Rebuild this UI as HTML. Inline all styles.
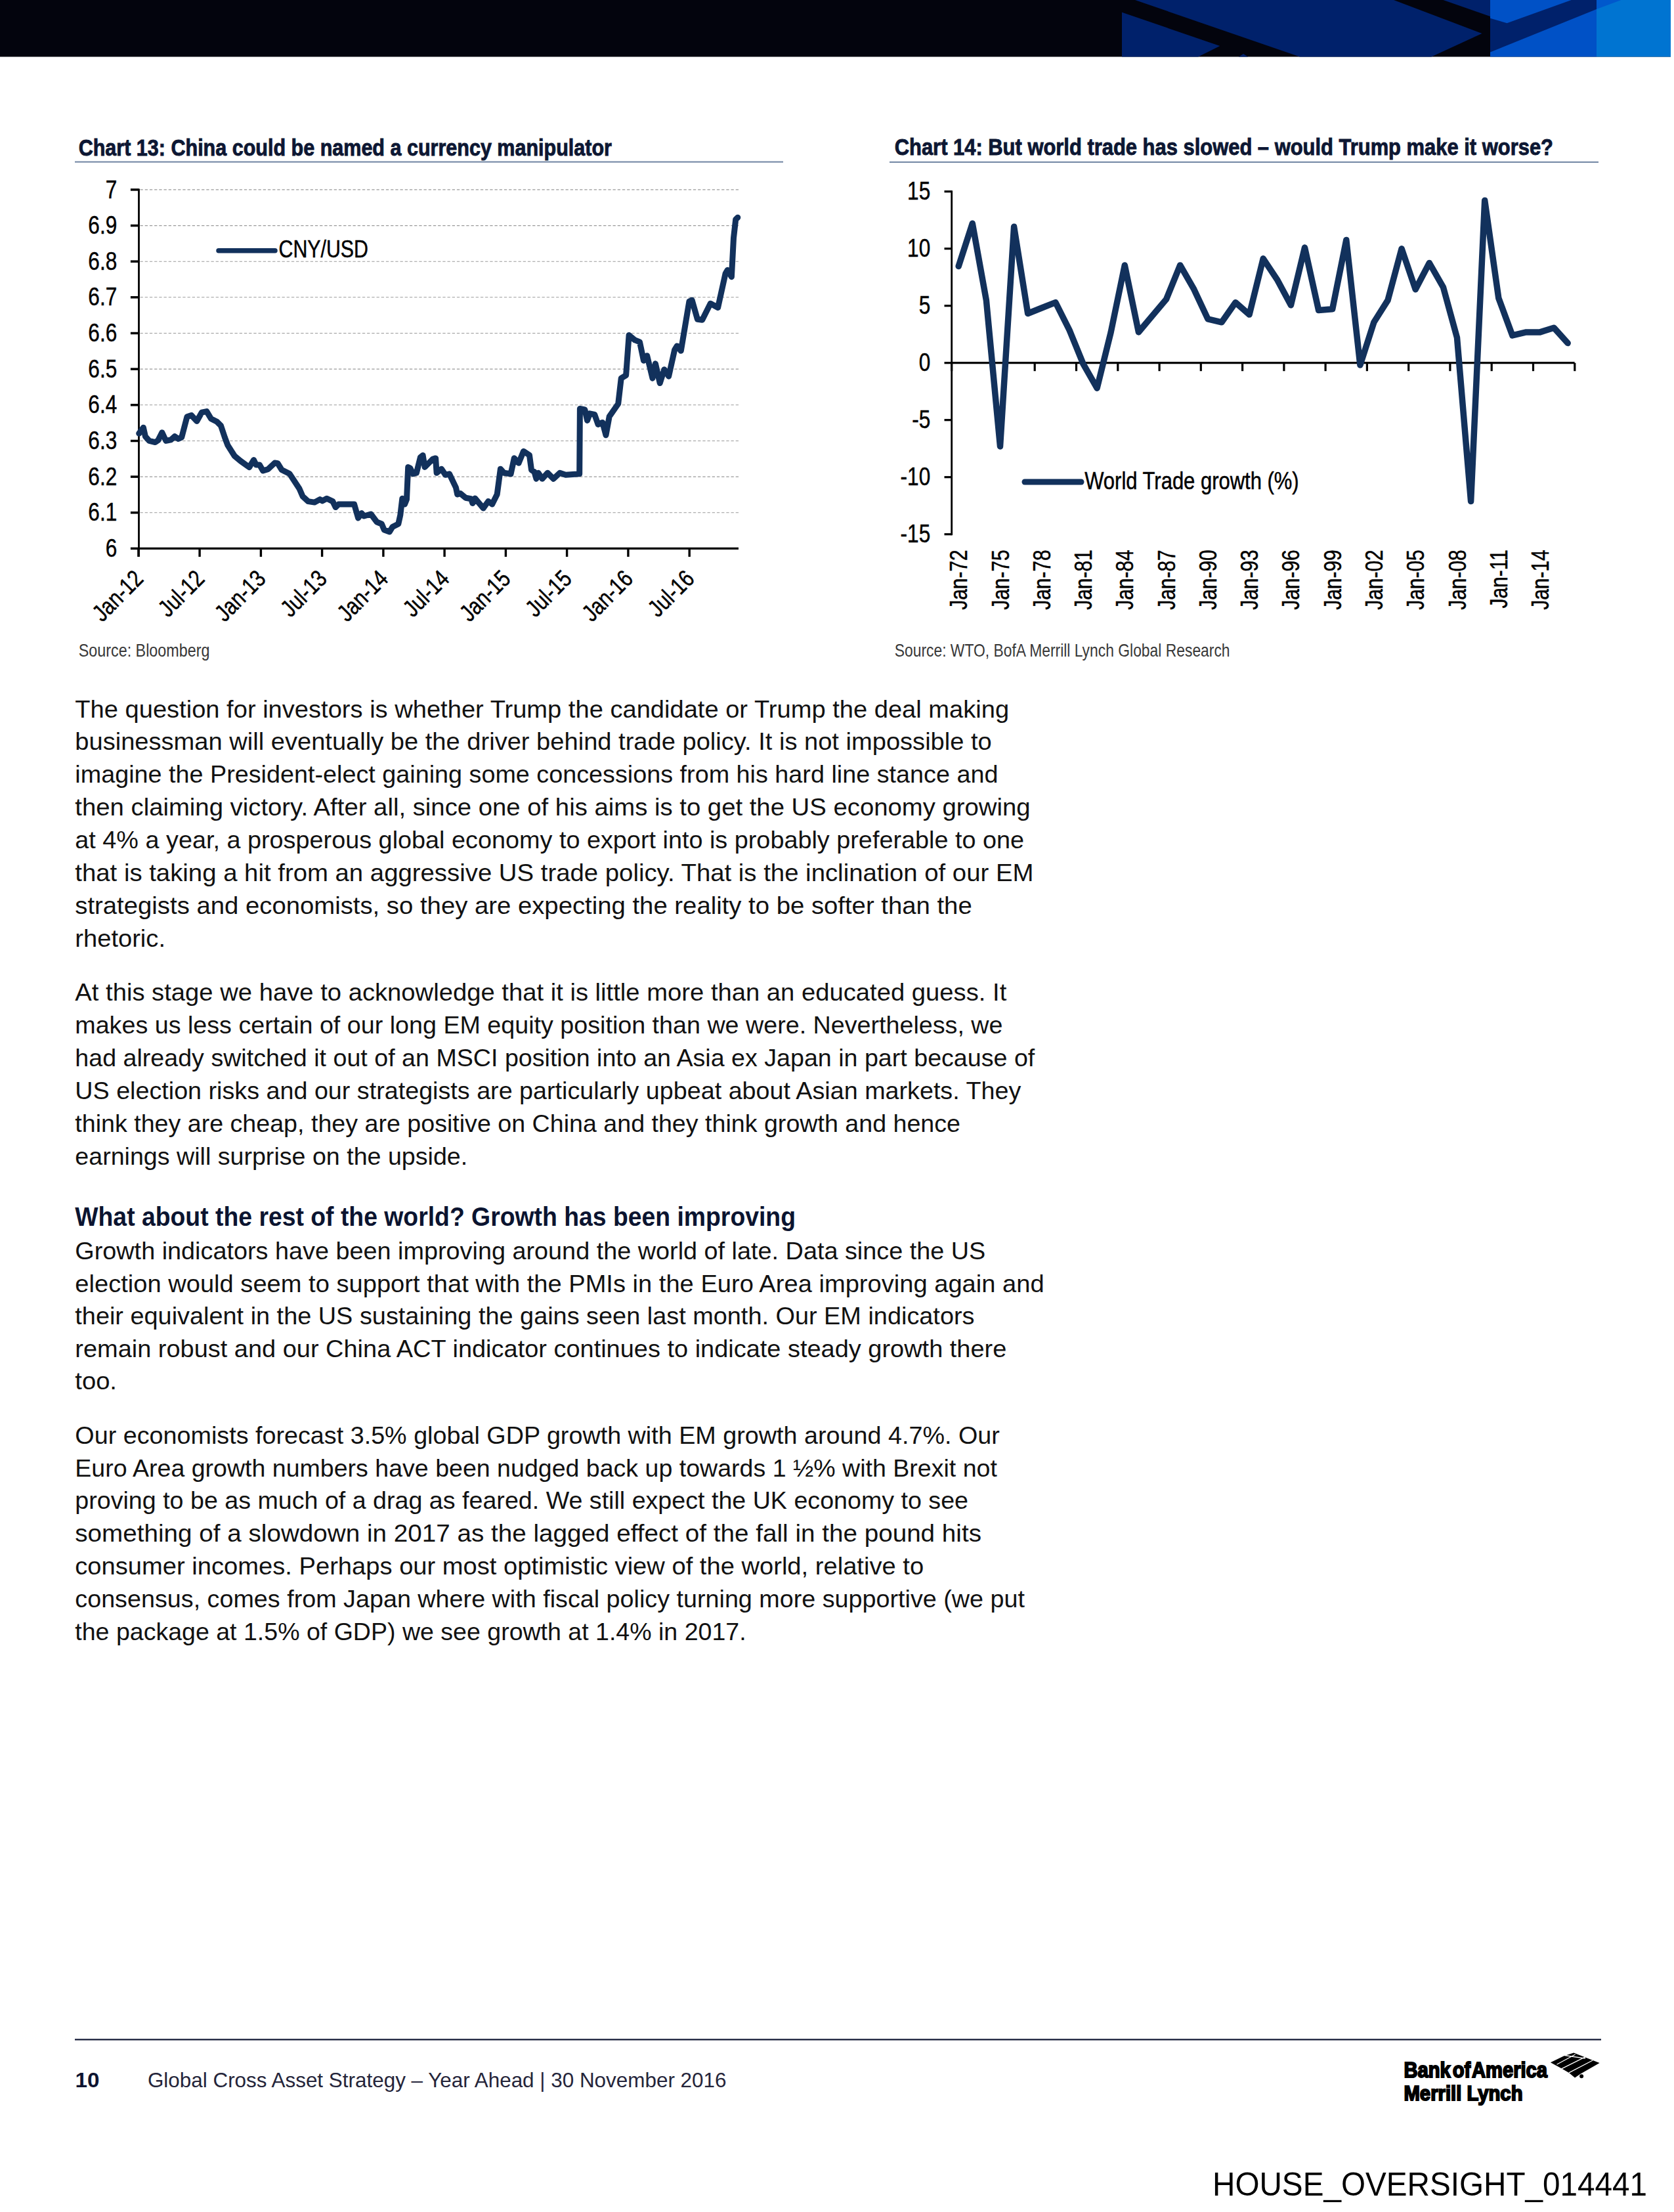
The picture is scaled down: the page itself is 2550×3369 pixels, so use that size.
<!DOCTYPE html>
<html><head><meta charset="utf-8"><style>
html,body{margin:0;padding:0;background:#fff;width:2550px;height:3369px;overflow:hidden}
svg{display:block}
text{font-family:"Liberation Sans",sans-serif}
</style></head><body>
<svg width="2550" height="3369" viewBox="0 0 2550 3369">
<rect x="0" y="0" width="2545" height="86.5" fill="#03040d"/>
<polygon fill="#00216b" points="1709.0,18.8 1858.3,69.9 1825.2,86.5 1709.0,86.5"/>
<polygon fill="#00216b" points="1729.0,0.0 2123.0,0.0 2257.5,51.0 2180.4,86.5 1980.0,86.5"/>
<polygon fill="#00216b" points="1887.0,86.5 1894.0,82.0 1901.0,86.5"/>
<polygon fill="#00216b" points="2198.4,0.0 2270.0,0.0 2270.0,25.0"/>
<rect x="2270" y="0" width="162" height="86.5" fill="#0051c6"/>
<polygon fill="#00216b" points="2270.0,27.8 2295.6,35.2 2393.7,0.0 2432.0,0.0 2432.0,13.9 2270.0,79.6"/>
<rect x="2432" y="0" width="113" height="86.5" fill="#0074d1"/>
<polygon fill="#0058cc" points="2432.0,0.0 2469.6,0.0 2432.0,13.9"/>
<text x="119.7" y="236.6" font-size="34.5" fill="#0d1733" font-weight="bold" textLength="812.3" lengthAdjust="spacingAndGlyphs" stroke="#0d1733" stroke-width="0.9">Chart 13: China could be named a currency manipulator</text>
<text x="1362.7" y="236.4" font-size="34.5" fill="#0d1733" font-weight="bold" textLength="1003.3" lengthAdjust="spacingAndGlyphs" stroke="#0d1733" stroke-width="0.9">Chart 14: But world trade has slowed – would Trump make it worse?</text>
<rect x="114" y="245.6" width="1079" height="2" fill="#6f84a2"/>
<rect x="1355" y="245.9" width="1080" height="2" fill="#6f84a2"/>
<line x1="213.5" y1="780.8" x2="1125" y2="780.8" stroke="#9a9a9a" stroke-width="1.1" stroke-dasharray="4.3,2.9"/>
<line x1="213.5" y1="726.1" x2="1125" y2="726.1" stroke="#9a9a9a" stroke-width="1.1" stroke-dasharray="4.3,2.9"/>
<line x1="213.5" y1="671.5" x2="1125" y2="671.5" stroke="#9a9a9a" stroke-width="1.1" stroke-dasharray="4.3,2.9"/>
<line x1="213.5" y1="616.8" x2="1125" y2="616.8" stroke="#9a9a9a" stroke-width="1.1" stroke-dasharray="4.3,2.9"/>
<line x1="213.5" y1="562.1" x2="1125" y2="562.1" stroke="#9a9a9a" stroke-width="1.1" stroke-dasharray="4.3,2.9"/>
<line x1="213.5" y1="507.5" x2="1125" y2="507.5" stroke="#9a9a9a" stroke-width="1.1" stroke-dasharray="4.3,2.9"/>
<line x1="213.5" y1="452.8" x2="1125" y2="452.8" stroke="#9a9a9a" stroke-width="1.1" stroke-dasharray="4.3,2.9"/>
<line x1="213.5" y1="398.2" x2="1125" y2="398.2" stroke="#9a9a9a" stroke-width="1.1" stroke-dasharray="4.3,2.9"/>
<line x1="213.5" y1="343.6" x2="1125" y2="343.6" stroke="#9a9a9a" stroke-width="1.1" stroke-dasharray="4.3,2.9"/>
<line x1="213.5" y1="288.9" x2="1125" y2="288.9" stroke="#9a9a9a" stroke-width="1.1" stroke-dasharray="4.3,2.9"/>
<line x1="198.9" y1="835.4" x2="211.5" y2="835.4" stroke="#000" stroke-width="3.5"/>
<text transform="translate(178.2,848.0) scale(0.82,1)" font-size="38.5" text-anchor="end" fill="#000" stroke="#000" stroke-width="0.5">6</text>
<line x1="198.9" y1="780.8" x2="211.5" y2="780.8" stroke="#000" stroke-width="3.5"/>
<text transform="translate(178.2,793.4) scale(0.82,1)" font-size="38.5" text-anchor="end" fill="#000" stroke="#000" stroke-width="0.5">6.1</text>
<line x1="198.9" y1="726.1" x2="211.5" y2="726.1" stroke="#000" stroke-width="3.5"/>
<text transform="translate(178.2,738.7) scale(0.82,1)" font-size="38.5" text-anchor="end" fill="#000" stroke="#000" stroke-width="0.5">6.2</text>
<line x1="198.9" y1="671.5" x2="211.5" y2="671.5" stroke="#000" stroke-width="3.5"/>
<text transform="translate(178.2,684.1) scale(0.82,1)" font-size="38.5" text-anchor="end" fill="#000" stroke="#000" stroke-width="0.5">6.3</text>
<line x1="198.9" y1="616.8" x2="211.5" y2="616.8" stroke="#000" stroke-width="3.5"/>
<text transform="translate(178.2,629.4) scale(0.82,1)" font-size="38.5" text-anchor="end" fill="#000" stroke="#000" stroke-width="0.5">6.4</text>
<line x1="198.9" y1="562.1" x2="211.5" y2="562.1" stroke="#000" stroke-width="3.5"/>
<text transform="translate(178.2,574.8) scale(0.82,1)" font-size="38.5" text-anchor="end" fill="#000" stroke="#000" stroke-width="0.5">6.5</text>
<line x1="198.9" y1="507.5" x2="211.5" y2="507.5" stroke="#000" stroke-width="3.5"/>
<text transform="translate(178.2,520.1) scale(0.82,1)" font-size="38.5" text-anchor="end" fill="#000" stroke="#000" stroke-width="0.5">6.6</text>
<line x1="198.9" y1="452.8" x2="211.5" y2="452.8" stroke="#000" stroke-width="3.5"/>
<text transform="translate(178.2,465.4) scale(0.82,1)" font-size="38.5" text-anchor="end" fill="#000" stroke="#000" stroke-width="0.5">6.7</text>
<line x1="198.9" y1="398.2" x2="211.5" y2="398.2" stroke="#000" stroke-width="3.5"/>
<text transform="translate(178.2,410.8) scale(0.82,1)" font-size="38.5" text-anchor="end" fill="#000" stroke="#000" stroke-width="0.5">6.8</text>
<line x1="198.9" y1="343.6" x2="211.5" y2="343.6" stroke="#000" stroke-width="3.5"/>
<text transform="translate(178.2,356.2) scale(0.82,1)" font-size="38.5" text-anchor="end" fill="#000" stroke="#000" stroke-width="0.5">6.9</text>
<line x1="198.9" y1="288.9" x2="211.5" y2="288.9" stroke="#000" stroke-width="3.5"/>
<text transform="translate(178.2,301.5) scale(0.82,1)" font-size="38.5" text-anchor="end" fill="#000" stroke="#000" stroke-width="0.5">7</text>
<line x1="211.5" y1="287.4" x2="211.5" y2="847.9" stroke="#000" stroke-width="2.8"/>
<line x1="210.1" y1="835.4" x2="1125" y2="835.4" stroke="#000" stroke-width="3.4"/>
<line x1="210.9" y1="835.4" x2="210.9" y2="848" stroke="#000" stroke-width="3.4"/>
<g transform="translate(210.9,874.3) rotate(-45)"><text transform="translate(0,13.4) scale(0.82,1)" font-size="36.5" text-anchor="end" fill="#000" stroke="#000" stroke-width="0.5">Jan-12</text></g>
<line x1="304.1" y1="835.4" x2="304.1" y2="848" stroke="#000" stroke-width="3.4"/>
<g transform="translate(304.1,874.3) rotate(-45)"><text transform="translate(0,13.4) scale(0.82,1)" font-size="36.5" text-anchor="end" fill="#000" stroke="#000" stroke-width="0.5">Jul-12</text></g>
<line x1="397.4" y1="835.4" x2="397.4" y2="848" stroke="#000" stroke-width="3.4"/>
<g transform="translate(397.4,874.3) rotate(-45)"><text transform="translate(0,13.4) scale(0.82,1)" font-size="36.5" text-anchor="end" fill="#000" stroke="#000" stroke-width="0.5">Jan-13</text></g>
<line x1="490.6" y1="835.4" x2="490.6" y2="848" stroke="#000" stroke-width="3.4"/>
<g transform="translate(490.6,874.3) rotate(-45)"><text transform="translate(0,13.4) scale(0.82,1)" font-size="36.5" text-anchor="end" fill="#000" stroke="#000" stroke-width="0.5">Jul-13</text></g>
<line x1="583.9" y1="835.4" x2="583.9" y2="848" stroke="#000" stroke-width="3.4"/>
<g transform="translate(583.9,874.3) rotate(-45)"><text transform="translate(0,13.4) scale(0.82,1)" font-size="36.5" text-anchor="end" fill="#000" stroke="#000" stroke-width="0.5">Jan-14</text></g>
<line x1="677.1" y1="835.4" x2="677.1" y2="848" stroke="#000" stroke-width="3.4"/>
<g transform="translate(677.1,874.3) rotate(-45)"><text transform="translate(0,13.4) scale(0.82,1)" font-size="36.5" text-anchor="end" fill="#000" stroke="#000" stroke-width="0.5">Jul-14</text></g>
<line x1="770.4" y1="835.4" x2="770.4" y2="848" stroke="#000" stroke-width="3.4"/>
<g transform="translate(770.4,874.3) rotate(-45)"><text transform="translate(0,13.4) scale(0.82,1)" font-size="36.5" text-anchor="end" fill="#000" stroke="#000" stroke-width="0.5">Jan-15</text></g>
<line x1="863.6" y1="835.4" x2="863.6" y2="848" stroke="#000" stroke-width="3.4"/>
<g transform="translate(863.6,874.3) rotate(-45)"><text transform="translate(0,13.4) scale(0.82,1)" font-size="36.5" text-anchor="end" fill="#000" stroke="#000" stroke-width="0.5">Jul-15</text></g>
<line x1="956.9" y1="835.4" x2="956.9" y2="848" stroke="#000" stroke-width="3.4"/>
<g transform="translate(956.9,874.3) rotate(-45)"><text transform="translate(0,13.4) scale(0.82,1)" font-size="36.5" text-anchor="end" fill="#000" stroke="#000" stroke-width="0.5">Jan-16</text></g>
<line x1="1050.2" y1="835.4" x2="1050.2" y2="848" stroke="#000" stroke-width="3.4"/>
<g transform="translate(1050.2,874.3) rotate(-45)"><text transform="translate(0,13.4) scale(0.82,1)" font-size="36.5" text-anchor="end" fill="#000" stroke="#000" stroke-width="0.5">Jul-16</text></g>
<polyline fill="none" stroke="#12315c" stroke-width="9" stroke-linejoin="round" stroke-linecap="round" points="211.7,660.2 218.4,651.2 221.4,664.7 227.4,671.4 236.4,673.6 240.8,670.6 246.8,658.7 252.8,671.4 260.3,669.9 266.2,664.7 271.5,668.4 276.7,666.2 284.9,634.8 291.6,632.6 299.8,641.5 307.3,628.1 314.8,626.6 321.5,637.8 330.4,642.3 336.4,648.2 342.4,666.2 346.9,678.1 357.3,694.5 366.3,702.0 379.7,711.7 386.5,700.5 390.2,708.0 395.4,708.0 400.6,716.9 408.1,714.7 418.6,705.0 423.0,705.7 429.0,715.4 441.0,721.4 456.0,744.2 461.2,756.2 469.4,763.6 479.1,765.1 487.3,760.6 491.1,762.9 497.8,759.2 506.8,763.6 511.2,772.6 515.7,768.1 533.6,768.1 539.6,768.1 545.6,789.0 550.8,781.6 554.5,786.0 565.0,783.0 574.0,795.0 581.4,798.0 585.2,806.9 593.4,809.9 597.9,802.5 606.8,798.0 609.8,784.5 612.8,759.2 616.5,768.1 619.5,760.6 621.7,711.4 624.7,712.9 629.2,721.8 634.4,720.3 640.4,696.4 644.1,693.4 647.1,711.4 659.0,699.4 663.6,697.9 665.1,720.3 672.5,714.3 678.5,723.3 684.5,721.8 694.5,742.6 696.7,753.0 701.2,751.6 709.4,758.3 717.6,759.8 719.9,766.5 723.6,759.0 736.3,774.0 743.8,763.5 749.7,768.0 757.2,753.0 762.4,714.2 767.7,720.2 778.1,721.7 783.3,697.8 790.1,705.3 797.5,687.3 806.5,693.3 809.5,715.7 814.0,718.7 817.0,729.2 820.0,720.2 826.0,729.2 834.1,720.2 843.1,729.2 852.8,720.2 861.7,723.2 882.7,721.7 883.4,622.5 890.9,624.0 894.6,640.4 898.4,629.9 905.8,631.4 911.1,646.4 917.8,643.4 923.0,662.8 928.2,634.4 941.7,615.0 946.2,576.2 953.6,571.7 958.1,510.5 967.1,517.9 974.5,520.9 980.5,549.3 985.7,541.8 994.0,576.2 998.4,553.8 1005.2,583.6 1011.9,562.7 1018.6,573.2 1027.6,532.9 1031.3,526.9 1037.3,534.3 1049.9,459.1 1054.1,457.1 1062.4,486.2 1069.7,487.2 1082.2,462.3 1093.6,468.5 1105.1,416.5 1108.2,411.3 1114.4,421.7 1117.5,362.4 1120.7,334.3 1123.8,331.2"/>
<line x1="333" y1="381.8" x2="419" y2="381.8" stroke="#12315c" stroke-width="7.5" stroke-linecap="round"/>
<text x="424.5" y="392.3" font-size="36.5" fill="#000" stroke="#000" stroke-width="0.5" textLength="136.5" lengthAdjust="spacingAndGlyphs">CNY/USD</text>
<text x="119.7" y="999.8" font-size="28" fill="#383838" textLength="199.8" lengthAdjust="spacingAndGlyphs" >Source: Bloomberg</text>
<line x1="1438.5" y1="813.7" x2="1449.7" y2="813.7" stroke="#000" stroke-width="3.2"/>
<text transform="translate(1417.2,826.3) scale(0.82,1)" font-size="38.5" text-anchor="end" fill="#000" stroke="#000" stroke-width="0.5">-15</text>
<line x1="1438.5" y1="726.7" x2="1449.7" y2="726.7" stroke="#000" stroke-width="3.2"/>
<text transform="translate(1417.2,739.3) scale(0.82,1)" font-size="38.5" text-anchor="end" fill="#000" stroke="#000" stroke-width="0.5">-10</text>
<line x1="1438.5" y1="639.7" x2="1449.7" y2="639.7" stroke="#000" stroke-width="3.2"/>
<text transform="translate(1417.2,652.3) scale(0.82,1)" font-size="38.5" text-anchor="end" fill="#000" stroke="#000" stroke-width="0.5">-5</text>
<line x1="1438.5" y1="552.7" x2="1449.7" y2="552.7" stroke="#000" stroke-width="3.2"/>
<text transform="translate(1417.2,565.3) scale(0.82,1)" font-size="38.5" text-anchor="end" fill="#000" stroke="#000" stroke-width="0.5">0</text>
<line x1="1438.5" y1="465.7" x2="1449.7" y2="465.7" stroke="#000" stroke-width="3.2"/>
<text transform="translate(1417.2,478.3) scale(0.82,1)" font-size="38.5" text-anchor="end" fill="#000" stroke="#000" stroke-width="0.5">5</text>
<line x1="1438.5" y1="378.7" x2="1449.7" y2="378.7" stroke="#000" stroke-width="3.2"/>
<text transform="translate(1417.2,391.3) scale(0.82,1)" font-size="38.5" text-anchor="end" fill="#000" stroke="#000" stroke-width="0.5">10</text>
<line x1="1438.5" y1="291.7" x2="1449.7" y2="291.7" stroke="#000" stroke-width="3.2"/>
<text transform="translate(1417.2,304.3) scale(0.82,1)" font-size="38.5" text-anchor="end" fill="#000" stroke="#000" stroke-width="0.5">15</text>
<line x1="1449.7" y1="290.2" x2="1449.7" y2="815.2" stroke="#000" stroke-width="2.8"/>
<line x1="1448.3" y1="552.7" x2="2398.6" y2="552.7" stroke="#000" stroke-width="3.2"/>
<line x1="1449.7" y1="552.7" x2="1449.7" y2="565.2" stroke="#000" stroke-width="3.2"/>
<line x1="1513.0" y1="552.7" x2="1513.0" y2="565.2" stroke="#000" stroke-width="3.2"/>
<line x1="1576.2" y1="552.7" x2="1576.2" y2="565.2" stroke="#000" stroke-width="3.2"/>
<line x1="1639.5" y1="552.7" x2="1639.5" y2="565.2" stroke="#000" stroke-width="3.2"/>
<line x1="1702.8" y1="552.7" x2="1702.8" y2="565.2" stroke="#000" stroke-width="3.2"/>
<line x1="1766.1" y1="552.7" x2="1766.1" y2="565.2" stroke="#000" stroke-width="3.2"/>
<line x1="1829.3" y1="552.7" x2="1829.3" y2="565.2" stroke="#000" stroke-width="3.2"/>
<line x1="1892.6" y1="552.7" x2="1892.6" y2="565.2" stroke="#000" stroke-width="3.2"/>
<line x1="1955.9" y1="552.7" x2="1955.9" y2="565.2" stroke="#000" stroke-width="3.2"/>
<line x1="2019.1" y1="552.7" x2="2019.1" y2="565.2" stroke="#000" stroke-width="3.2"/>
<line x1="2082.4" y1="552.7" x2="2082.4" y2="565.2" stroke="#000" stroke-width="3.2"/>
<line x1="2145.7" y1="552.7" x2="2145.7" y2="565.2" stroke="#000" stroke-width="3.2"/>
<line x1="2208.9" y1="552.7" x2="2208.9" y2="565.2" stroke="#000" stroke-width="3.2"/>
<line x1="2272.2" y1="552.7" x2="2272.2" y2="565.2" stroke="#000" stroke-width="3.2"/>
<line x1="2335.5" y1="552.7" x2="2335.5" y2="565.2" stroke="#000" stroke-width="3.2"/>
<line x1="2398.8" y1="552.7" x2="2398.8" y2="565.2" stroke="#000" stroke-width="3.2"/>
<g transform="translate(1460.2,837.3) rotate(-90)"><text transform="translate(0,13.0) scale(0.82,1)" font-size="36.5" text-anchor="end" fill="#000" stroke="#000" stroke-width="0.5">Jan-72</text></g>
<g transform="translate(1523.5,837.3) rotate(-90)"><text transform="translate(0,13.0) scale(0.82,1)" font-size="36.5" text-anchor="end" fill="#000" stroke="#000" stroke-width="0.5">Jan-75</text></g>
<g transform="translate(1586.8,837.3) rotate(-90)"><text transform="translate(0,13.0) scale(0.82,1)" font-size="36.5" text-anchor="end" fill="#000" stroke="#000" stroke-width="0.5">Jan-78</text></g>
<g transform="translate(1650.1,837.3) rotate(-90)"><text transform="translate(0,13.0) scale(0.82,1)" font-size="36.5" text-anchor="end" fill="#000" stroke="#000" stroke-width="0.5">Jan-81</text></g>
<g transform="translate(1713.3,837.3) rotate(-90)"><text transform="translate(0,13.0) scale(0.82,1)" font-size="36.5" text-anchor="end" fill="#000" stroke="#000" stroke-width="0.5">Jan-84</text></g>
<g transform="translate(1776.6,837.3) rotate(-90)"><text transform="translate(0,13.0) scale(0.82,1)" font-size="36.5" text-anchor="end" fill="#000" stroke="#000" stroke-width="0.5">Jan-87</text></g>
<g transform="translate(1839.9,837.3) rotate(-90)"><text transform="translate(0,13.0) scale(0.82,1)" font-size="36.5" text-anchor="end" fill="#000" stroke="#000" stroke-width="0.5">Jan-90</text></g>
<g transform="translate(1903.1,837.3) rotate(-90)"><text transform="translate(0,13.0) scale(0.82,1)" font-size="36.5" text-anchor="end" fill="#000" stroke="#000" stroke-width="0.5">Jan-93</text></g>
<g transform="translate(1966.4,837.3) rotate(-90)"><text transform="translate(0,13.0) scale(0.82,1)" font-size="36.5" text-anchor="end" fill="#000" stroke="#000" stroke-width="0.5">Jan-96</text></g>
<g transform="translate(2029.7,837.3) rotate(-90)"><text transform="translate(0,13.0) scale(0.82,1)" font-size="36.5" text-anchor="end" fill="#000" stroke="#000" stroke-width="0.5">Jan-99</text></g>
<g transform="translate(2092.9,837.3) rotate(-90)"><text transform="translate(0,13.0) scale(0.82,1)" font-size="36.5" text-anchor="end" fill="#000" stroke="#000" stroke-width="0.5">Jan-02</text></g>
<g transform="translate(2156.2,837.3) rotate(-90)"><text transform="translate(0,13.0) scale(0.82,1)" font-size="36.5" text-anchor="end" fill="#000" stroke="#000" stroke-width="0.5">Jan-05</text></g>
<g transform="translate(2219.5,837.3) rotate(-90)"><text transform="translate(0,13.0) scale(0.82,1)" font-size="36.5" text-anchor="end" fill="#000" stroke="#000" stroke-width="0.5">Jan-08</text></g>
<g transform="translate(2282.8,837.3) rotate(-90)"><text transform="translate(0,13.0) scale(0.82,1)" font-size="36.5" text-anchor="end" fill="#000" stroke="#000" stroke-width="0.5">Jan-11</text></g>
<g transform="translate(2346.0,837.3) rotate(-90)"><text transform="translate(0,13.0) scale(0.82,1)" font-size="36.5" text-anchor="end" fill="#000" stroke="#000" stroke-width="0.5">Jan-14</text></g>
<polyline fill="none" stroke="#12315c" stroke-width="9.5" stroke-linejoin="round" stroke-linecap="round" points="1460.2,405.5 1481.3,340.3 1502.4,457.4 1523.5,679.9 1544.6,345.3 1565.7,477.5 1586.8,469.0 1607.9,460.7 1629.0,502.6 1650.1,554.4 1671.1,591.2 1692.2,505.9 1713.3,403.9 1734.4,505.9 1755.5,480.8 1776.6,455.7 1797.7,403.9 1818.8,440.7 1839.9,485.8 1861.0,490.8 1882.0,460.7 1903.1,479.1 1924.2,393.8 1945.3,425.6 1966.4,464.8 1987.5,377.1 2008.6,472.4 2029.7,470.8 2050.8,365.4 2071.9,556.1 2092.9,490.8 2114.0,457.4 2135.1,378.8 2156.2,440.7 2177.3,400.5 2198.4,437.3 2219.5,514.3 2240.6,763.5 2261.7,305.2 2282.8,454.0 2303.8,510.9 2324.9,505.9 2346.0,505.9 2367.1,499.2 2388.2,522.6"/>
<line x1="1561" y1="734" x2="1647" y2="734" stroke="#12315c" stroke-width="9" stroke-linecap="round"/>
<text x="1652.2" y="745" font-size="36.5" fill="#000" stroke="#000" stroke-width="0.5" textLength="326.5" lengthAdjust="spacingAndGlyphs">World Trade growth (%)</text>
<text x="1362.7" y="999.8" font-size="28" fill="#383838" textLength="510.9" lengthAdjust="spacingAndGlyphs" >Source: WTO, BofA Merrill Lynch Global Research</text>
<text x="114.3" y="1092.6" font-size="37.5" fill="#111111" textLength="1422.8" lengthAdjust="spacingAndGlyphs" >The question for investors is whether Trump the candidate or Trump the deal making</text>
<text x="114.3" y="1142.4" font-size="37.5" fill="#111111" textLength="1396.5" lengthAdjust="spacingAndGlyphs" >businessman will eventually be the driver behind trade policy. It is not impossible to</text>
<text x="114.3" y="1192.3" font-size="37.5" fill="#111111" textLength="1406.1" lengthAdjust="spacingAndGlyphs" >imagine the President-elect gaining some concessions from his hard line stance and</text>
<text x="114.3" y="1242.1" font-size="37.5" fill="#111111" textLength="1455.3" lengthAdjust="spacingAndGlyphs" >then claiming victory. After all, since one of his aims is to get the US economy growing</text>
<text x="114.3" y="1292.0" font-size="37.5" fill="#111111" textLength="1445.8" lengthAdjust="spacingAndGlyphs" >at 4% a year, a prosperous global economy to export into is probably preferable to one</text>
<text x="114.3" y="1341.8" font-size="37.5" fill="#111111" textLength="1460.1" lengthAdjust="spacingAndGlyphs" >that is taking a hit from an aggressive US trade policy. That is the inclination of our EM</text>
<text x="114.3" y="1391.6" font-size="37.5" fill="#111111" textLength="1366.4" lengthAdjust="spacingAndGlyphs" >strategists and economists, so they are expecting the reality to be softer than the</text>
<text x="114.3" y="1441.5" font-size="37.5" fill="#111111" textLength="137.7" lengthAdjust="spacingAndGlyphs" >rhetoric.</text>
<text x="114.3" y="1523.5" font-size="37.5" fill="#111111" textLength="1419.0" lengthAdjust="spacingAndGlyphs" >At this stage we have to acknowledge that it is little more than an educated guess. It</text>
<text x="114.3" y="1573.7" font-size="37.5" fill="#111111" textLength="1413.2" lengthAdjust="spacingAndGlyphs" >makes us less certain of our long EM equity position than we were. Nevertheless, we</text>
<text x="114.3" y="1623.9" font-size="37.5" fill="#111111" textLength="1462.0" lengthAdjust="spacingAndGlyphs" >had already switched it out of an MSCI position into an Asia ex Japan in part because of</text>
<text x="114.3" y="1674.0" font-size="37.5" fill="#111111" textLength="1441.0" lengthAdjust="spacingAndGlyphs" >US election risks and our strategists are particularly upbeat about Asian markets. They</text>
<text x="114.3" y="1724.2" font-size="37.5" fill="#111111" textLength="1348.7" lengthAdjust="spacingAndGlyphs" >think they are cheap, they are positive on China and they think growth and hence</text>
<text x="114.3" y="1774.4" font-size="37.5" fill="#111111" textLength="597.9" lengthAdjust="spacingAndGlyphs" >earnings will surprise on the upside.</text>
<text x="114.3" y="1918.0" font-size="37.5" fill="#111111" textLength="1387.0" lengthAdjust="spacingAndGlyphs" >Growth indicators have been improving around the world of late. Data since the US</text>
<text x="114.3" y="1967.6" font-size="37.5" fill="#111111" textLength="1476.3" lengthAdjust="spacingAndGlyphs" >election would seem to support that with the PMIs in the Euro Area improving again and</text>
<text x="114.3" y="2017.2" font-size="37.5" fill="#111111" textLength="1370.2" lengthAdjust="spacingAndGlyphs" >their equivalent in the US sustaining the gains seen last month. Our EM indicators</text>
<text x="114.3" y="2066.8" font-size="37.5" fill="#111111" textLength="1419.0" lengthAdjust="spacingAndGlyphs" >remain robust and our China ACT indicator continues to indicate steady growth there</text>
<text x="114.3" y="2116.4" font-size="37.5" fill="#111111" textLength="63.7" lengthAdjust="spacingAndGlyphs" >too.</text>
<text x="114.3" y="2198.7" font-size="37.5" fill="#111111" textLength="1408.5" lengthAdjust="spacingAndGlyphs" >Our economists forecast 3.5% global GDP growth with EM growth around 4.7%. Our</text>
<text x="114.3" y="2248.6" font-size="37.5" fill="#111111" textLength="1404.6" lengthAdjust="spacingAndGlyphs" >Euro Area growth numbers have been nudged back up towards 1 ½% with Brexit not</text>
<text x="114.3" y="2298.4" font-size="37.5" fill="#111111" textLength="1360.7" lengthAdjust="spacingAndGlyphs" >proving to be as much of a drag as feared. We still expect the UK economy to see</text>
<text x="114.3" y="2348.3" font-size="37.5" fill="#111111" textLength="1380.7" lengthAdjust="spacingAndGlyphs" >something of a slowdown in 2017 as the lagged effect of the fall in the pound hits</text>
<text x="114.3" y="2398.2" font-size="37.5" fill="#111111" textLength="1292.8" lengthAdjust="spacingAndGlyphs" >consumer incomes. Perhaps our most optimistic view of the world, relative to</text>
<text x="114.3" y="2448.0" font-size="37.5" fill="#111111" textLength="1446.7" lengthAdjust="spacingAndGlyphs" >consensus, comes from Japan where with fiscal policy turning more supportive (we put</text>
<text x="114.3" y="2497.9" font-size="37.5" fill="#111111" textLength="1022.3" lengthAdjust="spacingAndGlyphs" >the package at 1.5% of GDP) we see growth at 1.4% in 2017.</text>
<text x="114.3" y="1866.8" font-size="40" fill="#0b1430" font-weight="bold" textLength="1097.7" lengthAdjust="spacingAndGlyphs" >What about the rest of the world? Growth has been improving</text>
<rect x="114" y="3105.3" width="2325" height="2.2" fill="#0f1733"/>
<text x="114.5" y="3178.6" font-size="32" fill="#0e1430" font-weight="bold" textLength="37.0" lengthAdjust="spacingAndGlyphs" >10</text>
<text x="224.9" y="3178.6" font-size="32" fill="#25253a" textLength="881.6" lengthAdjust="spacingAndGlyphs" >Global Cross Asset Strategy – Year Ahead | 30 November 2016</text>
<text x="2138.5" y="3164.4" font-size="33.5" fill="#000" font-weight="bold" textLength="218.5" lengthAdjust="spacingAndGlyphs" stroke="#000" stroke-width="2" word-spacing="-6">Bank of America</text>
<text x="2138.5" y="3198.5" font-size="32" fill="#000" font-weight="bold" textLength="181.0" lengthAdjust="spacingAndGlyphs" stroke="#000" stroke-width="2">Merrill Lynch</text>
<polygon fill="#000" points="2361.9,3141.3 2382.0,3131.5 2397.2,3126.4 2436.6,3141.9 2407.0,3159.0 2399.0,3164.6 2390.0,3157.0 2378.0,3150.0"/>
<circle cx="2409.1" cy="3162.2" r="3" fill="#000"/>
<path d="M2371.5,3144.3 L2399.6,3129 M2378.7,3150.8 L2415.7,3132.3 M2390,3156.8 L2426.2,3138 M2383.5,3130.5 L2415.1,3135.2" stroke="#fff" stroke-width="1.3" fill="none"/>
<text x="1847.0" y="3344.2" font-size="50" fill="#000" textLength="662.0" lengthAdjust="spacingAndGlyphs" >HOUSE_OVERSIGHT_014441</text>
</svg></body></html>
